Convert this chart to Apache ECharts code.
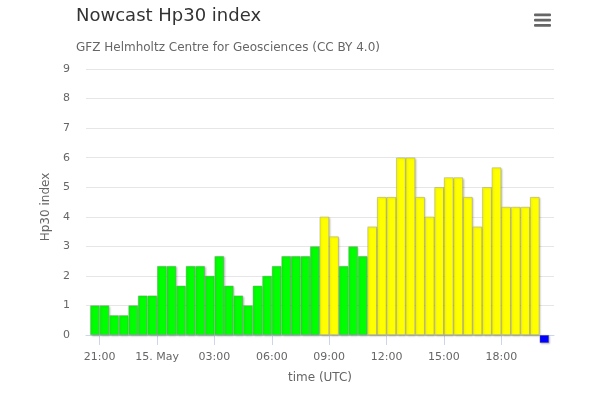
<!DOCTYPE html>
<html>
<head>
<meta charset="utf-8">
<script src="https://cdn.jsdelivr.net/npm/echarts@6/dist/echarts.min.js"></script>
<style>
html,body{margin:0;padding:0;background:#fff;}
#chart{width:614px;height:410px;}
</style>
</head>
<body>
<div id="chart"></div>
<script>
// Half-hour interval midpoints (UTC)
var times = [
  '2024-05-14T20:45:00Z','2024-05-14T21:15:00Z','2024-05-14T21:45:00Z','2024-05-14T22:15:00Z',
  '2024-05-14T22:45:00Z','2024-05-14T23:15:00Z','2024-05-14T23:45:00Z','2024-05-15T00:15:00Z',
  '2024-05-15T00:45:00Z','2024-05-15T01:15:00Z','2024-05-15T01:45:00Z','2024-05-15T02:15:00Z',
  '2024-05-15T02:45:00Z','2024-05-15T03:15:00Z','2024-05-15T03:45:00Z','2024-05-15T04:15:00Z',
  '2024-05-15T04:45:00Z','2024-05-15T05:15:00Z','2024-05-15T05:45:00Z','2024-05-15T06:15:00Z',
  '2024-05-15T06:45:00Z','2024-05-15T07:15:00Z','2024-05-15T07:45:00Z','2024-05-15T08:15:00Z',
  '2024-05-15T08:45:00Z','2024-05-15T09:15:00Z','2024-05-15T09:45:00Z','2024-05-15T10:15:00Z',
  '2024-05-15T10:45:00Z','2024-05-15T11:15:00Z','2024-05-15T11:45:00Z','2024-05-15T12:15:00Z',
  '2024-05-15T12:45:00Z','2024-05-15T13:15:00Z','2024-05-15T13:45:00Z','2024-05-15T14:15:00Z',
  '2024-05-15T14:45:00Z','2024-05-15T15:15:00Z','2024-05-15T15:45:00Z','2024-05-15T16:15:00Z',
  '2024-05-15T16:45:00Z','2024-05-15T17:15:00Z','2024-05-15T17:45:00Z','2024-05-15T18:15:00Z',
  '2024-05-15T18:45:00Z','2024-05-15T19:15:00Z','2024-05-15T19:45:00Z','2024-05-15T20:15:00Z'
];
// Hp30 values (last interval: nowcast placeholder drawn just below zero)
var hp30 = [
  1, 1, 0.667, 0.667, 1, 1.333, 1.333, 2.333,
  2.333, 1.667, 2.333, 2.333, 2, 2.667, 1.667, 1.333,
  1, 1.667, 2, 2.333, 2.667, 2.667, 2.667, 3,
  4, 3.333, 2.333, 3, 2.667, 3.667, 4.667, 4.667,
  6, 6, 4.667, 4, 5, 5.333, 5.333, 4.667,
  3.667, 5, 5.667, 4.333, 4.333, 4.333, 4.667, -0.27
];
// X axis tick positions and labels
var tickTimes = [
  '2024-05-14T21:00:00Z','2024-05-15T00:00:00Z','2024-05-15T03:00:00Z','2024-05-15T06:00:00Z',
  '2024-05-15T09:00:00Z','2024-05-15T12:00:00Z','2024-05-15T15:00:00Z','2024-05-15T18:00:00Z'
];
var tickLabels = ['21:00','15. May','03:00','06:00','09:00','12:00','15:00','18:00'];
var axisStart = '2024-05-14T20:17:00Z';
var axisEnd = '2024-05-15T20:45:20Z';

var tickMs = tickTimes.map(function(t){ return Date.parse(t); });
var labelMap = {};
tickMs.forEach(function(v, i){ labelMap[v] = tickLabels[i]; });

var chart = echarts.init(document.getElementById('chart'), null, {renderer: 'canvas'});
var font = 'DejaVu Sans';
chart.setOption({
  animation: false,
  textStyle: {fontFamily: font},
  title: [
    {text: 'Nowcast Hp30 index', left: 76, top: 7, padding: 0,
     textStyle: {fontFamily: font, fontSize: 18, fontWeight: 'normal', color: '#333333'}},
    {text: 'GFZ Helmholtz Centre for Geosciences (CC BY 4.0)', left: 76, top: 42, padding: 0,
     textStyle: {fontFamily: font, fontSize: 12, fontWeight: 'normal', color: '#666666'}}
  ],
  graphic: [
    {type: 'rect', left: 534, top: 13.5, shape: {width: 17, height: 2.8, r: 1}, style: {fill: '#666666'}},
    {type: 'rect', left: 534, top: 18.7, shape: {width: 17, height: 2.8, r: 1}, style: {fill: '#666666'}},
    {type: 'rect', left: 534, top: 23.9, shape: {width: 17, height: 2.8, r: 1}, style: {fill: '#666666'}}
  ],
  grid: {left: 86, right: 60, top: 69, bottom: 75, containLabel: false},
  xAxis: {
    type: 'value',
    min: Date.parse(axisStart),
    max: Date.parse(axisEnd),
    offset: 8,
    name: 'time (UTC)',
    nameLocation: 'middle',
    nameGap: 29,
    nameTextStyle: {color: '#666666', fontSize: 12, fontFamily: font},
    axisLine: {show: true, lineStyle: {color: '#ccd6eb', width: 1}},
    axisTick: {show: true, customValues: tickMs, length: 10, lineStyle: {color: '#ccd6eb'}},
    axisLabel: {
      customValues: tickMs,
      color: '#666666', fontSize: 11, fontFamily: font, margin: 9,
      formatter: function(v){ return labelMap[v] !== undefined ? labelMap[v] : ''; }
    },
    splitLine: {show: false}
  },
  yAxis: {
    type: 'value',
    min: 0, max: 9, interval: 1,
    name: 'Hp30 index',
    nameLocation: 'middle',
    nameRotate: 90,
    nameGap: 29,
    nameTextStyle: {color: '#666666', fontSize: 12, fontFamily: font, padding: [0, 10, 0, 0]},
    axisLine: {show: false},
    axisTick: {show: false},
    axisLabel: {color: '#666666', fontSize: 11, fontFamily: font, margin: 16},
    splitLine: {show: true, lineStyle: {color: '#e6e6e6', width: 1}}
  },
  series: [{
    type: 'bar',
    name: 'Hp30',
    data: times.map(function(t, i){ return [Date.parse(t), hp30[i]]; }),
    barWidth: 9.4,
    clip: false,
    itemStyle: {
      color: function(p){
        var v = p.value[1];
        if (v < 0) return '#0000ff';
        return v > 3 ? '#ffff00' : '#00ff00';
      },
      borderColor: 'rgba(120,120,120,0.55)',
      borderWidth: 0.6,
      shadowColor: 'rgba(0,0,0,0.25)',
      shadowBlur: 2,
      shadowOffsetX: 1,
      shadowOffsetY: 1
    }
  }]
});
</script>
</body>
</html>
